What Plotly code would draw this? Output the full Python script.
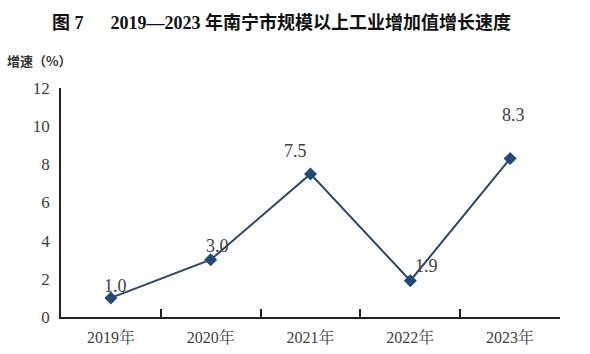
import plotly.graph_objects as go

years = ["2019年", "2020年", "2021年", "2022年", "2023年"]
growth = [1.0, 3.0, 7.5, 1.9, 8.3]
labels = ["1.0", "3.0", "7.5", "1.9", "8.3"]
label_dx = [5, 7, -15, 16, 3]
label_dy = [-12, -14, -23, -15, -44]

serif = "Liberation Serif, Noto Serif CJK SC, Noto Sans CJK SC, serif"

fig = go.Figure()
fig.add_trace(go.Scatter(
    x=years, y=growth, mode="lines+markers",
    line=dict(color="#2b4566", width=2),
    marker=dict(symbol="diamond", size=10, color="#1f4a7c"),
    showlegend=False, hoverinfo="skip",
))
for xv, yv, t, dx, dy in zip(years, growth, labels, label_dx, label_dy):
    fig.add_annotation(x=xv, y=yv, text=t, showarrow=False, xshift=dx, yshift=-dy,
                       font=dict(family=serif, size=18, color="#404040"))

fig.add_annotation(xref="paper", yref="paper", x=0, y=1, xshift=281 - 61, yshift=(88 - 22),
                   xanchor="center", yanchor="middle",
                   text="<b>图 7\u00a0\u00a0\u00a0\u00a0\u00a0 2019—2023 年南宁市规模以上工业增加值增长速度</b>",
                   showarrow=False,
                   font=dict(family="Liberation Serif, Noto Sans CJK SC", size=18, color="#111111"))
fig.add_annotation(xref="paper", yref="paper", x=0, y=1, xshift=-56, yshift=(88 - 60),
                   xanchor="left", yanchor="middle", showarrow=False,
                   text="<b>增速（%）</b>",
                   font=dict(family="Noto Sans CJK SC", size=13, color="#333333"))

fig.update_layout(
    width=590, height=354,
    margin=dict(l=61, r=30, t=88, b=37, autoexpand=False),
    paper_bgcolor="white", plot_bgcolor="white",
    xaxis=dict(type="category", range=[-0.5, 4.5], showline=True, linecolor="#222222", linewidth=1.5,
               ticks="inside", tickson="boundaries", ticklen=8, tickcolor="#222222", tickwidth=1.5,
               showgrid=False, zeroline=False, ticklabelstandoff=5, automargin=False,
               tickfont=dict(family=serif, size=16, color="#404040")),
    yaxis=dict(range=[0, 12], dtick=2, showline=True, linecolor="#222222", linewidth=1.5,
               ticks="", showgrid=False, zeroline=False, ticklabelstandoff=6, automargin=False,
               tickfont=dict(family=serif, size=17, color="#404040")),
)
fig.write_html("out.html")
